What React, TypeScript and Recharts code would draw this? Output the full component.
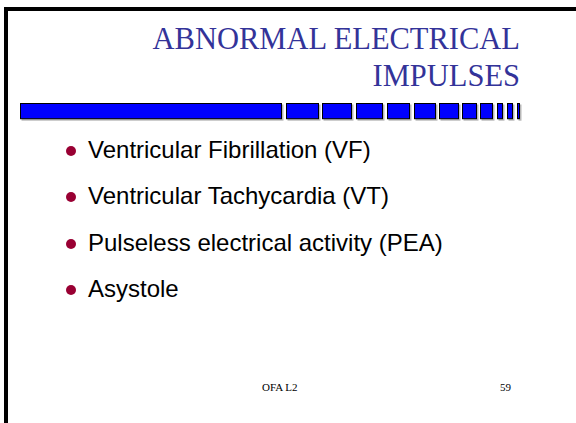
import React from "react";
import { BarChart, Bar, XAxis, YAxis } from "recharts";

// decorative strip under the title: block lengths and the gaps between them (px)
const segmentWidths = [262, 33, 30, 27, 23, 22, 20, 15, 13, 6, 6, 3];
const gapWidths = [4, 3, 4, 4, 4, 3, 3, 3, 4, 4, 4];

const titleLines = ["ABNORMAL ELECTRICAL", "IMPULSES"];
const bullets = [
  "Ventricular Fibrillation (VF)",
  "Ventricular Tachycardia (VT)",
  "Pulseless electrical activity (PEA)",
  "Asystole",
];
const footerLabel = "OFA L2";
const pageNumber = "59";

const total = segmentWidths.reduce((a, b) => a + b, 0) + gapWidths.reduce((a, b) => a + b, 0);

const keys: { key: string; gap: boolean }[] = [];
const row: Record<string, number | string> = { name: "strip" };
segmentWidths.forEach((w, i) => {
  row[`s${i}`] = w;
  keys.push({ key: `s${i}`, gap: false });
  if (i < gapWidths.length) {
    row[`g${i}`] = gapWidths[i];
    keys.push({ key: `g${i}`, gap: true });
  }
});
const stripData = [row];

function Block(props: any) {
  const { x, y, width, height } = props;
  if (!width || width <= 0) return null;
  return (
    <g>
      <rect x={x + 1.5} y={y + 1.5} width={width} height={height} fill="#b8b8b8" />
      <rect x={x + 0.5} y={y + 0.5} width={width - 1} height={height - 1} fill="#0000ff" stroke="#000" strokeWidth={1} />
    </g>
  );
}

export default function App() {
  return (
    <div style={{ position: "absolute", left: 0, top: 0, width: 576, height: 423, background: "#fff", overflow: "hidden" }}>
      <div
        style={{
          position: "absolute",
          left: 4,
          top: 7,
          width: 600,
          height: 412,
          borderLeft: "4px solid #000",
          borderTop: "4px solid #000",
          borderBottom: "2px solid #000",
        }}
      />
      {titleLines.map((t, i) => (
        <div
          key={t}
          style={{
            position: "absolute",
            right: 56,
            top: 22 + i * 37,
            fontFamily: "'Liberation Serif', serif",
            fontSize: 30.5,
            lineHeight: "34px",
            color: "#333399",
            whiteSpace: "nowrap",
          }}
        >
          {t}
        </div>
      ))}
      <div style={{ position: "absolute", left: 20, top: 102 }}>
        <BarChart
          width={total + 3}
          height={21}
          data={stripData}
          layout="vertical"
          margin={{ top: 0, right: 3, bottom: 3, left: 0 }}
          barCategoryGap={0}
        >
          <XAxis type="number" domain={[0, total]} hide />
          <YAxis type="category" dataKey="name" hide />
          {keys.map((k) => (
            <Bar
              key={k.key}
              dataKey={k.key}
              stackId="strip"
              barSize={18}
              isAnimationActive={false}
              shape={k.gap ? () => null : Block}
            />
          ))}
        </BarChart>
      </div>
      {bullets.map((b, i) => (
        <div
          key={b}
          style={{
            position: "absolute",
            left: 66,
            top: 136 + i * 46.3,
            fontFamily: "'Liberation Sans', Arial, sans-serif",
            fontSize: 24,
            lineHeight: "28px",
            color: "#000",
            whiteSpace: "nowrap",
            display: "flex",
            alignItems: "center",
          }}
        >
          <span style={{ display: "inline-block", width: 10, height: 10, borderRadius: 5, background: "#990033", marginRight: 12, marginTop: 2 }} />
          {b}
        </div>
      ))}
      <div style={{ position: "absolute", left: 262, top: 381, fontFamily: "'Liberation Serif', serif", fontSize: 11, color: "#000" }}>
        {footerLabel}
      </div>
      <div style={{ position: "absolute", left: 500, top: 381, fontFamily: "'Liberation Serif', serif", fontSize: 11, color: "#000" }}>
        {pageNumber}
      </div>
    </div>
  );
}
